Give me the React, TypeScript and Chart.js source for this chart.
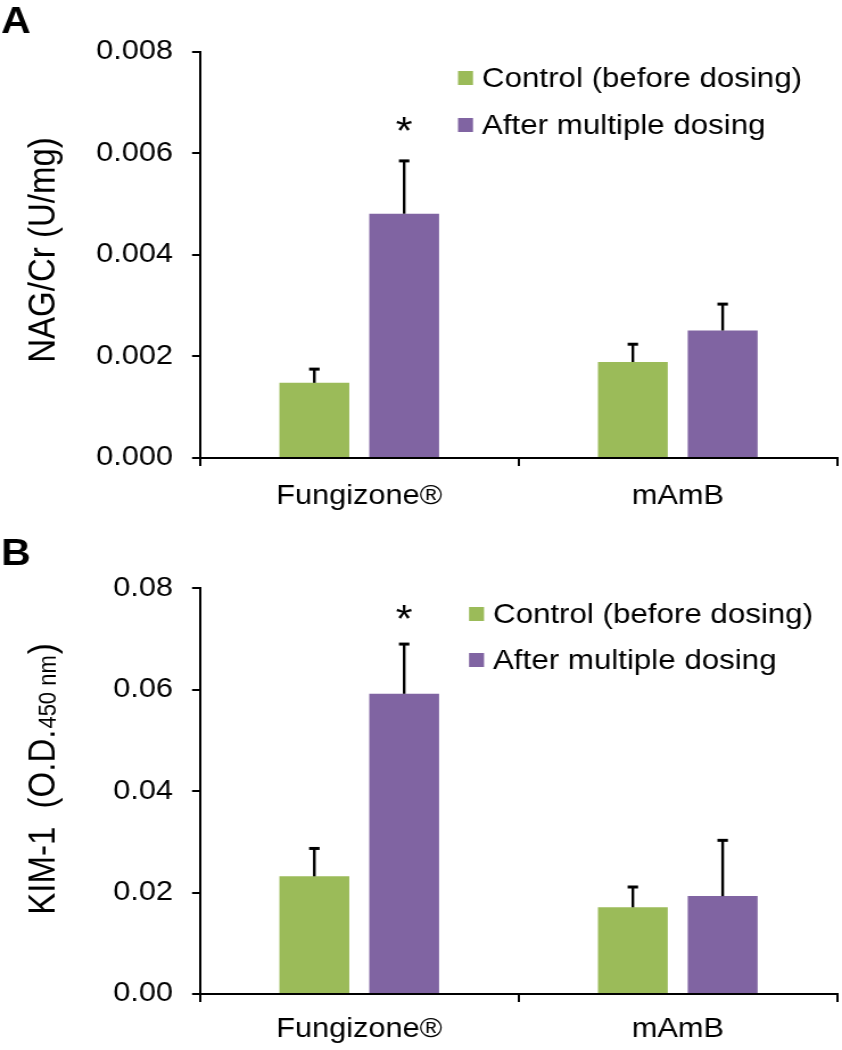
import React, { useEffect, useRef } from "react";
import { Chart, registerables } from "chart.js";

Chart.register(...registerables);

// ---------- data ----------
const categories = ["Fungizone®", "mAmB"];
const seriesLabels = ["Control (before dosing)", "After multiple dosing"];
const seriesColors = ["#9BBB59", "#8064A2"];

const nagControl = [0.00148, 0.00189];
const nagControlErr = [0.00027, 0.00035];
const nagAfter = [0.00481, 0.00251];
const nagAfterErr = [0.00104, 0.00052];
const nagStars = ["*", ""];
const nagTicks = [0, 0.002, 0.004, 0.006, 0.008];

const kimControl = [0.0232, 0.0171];
const kimControlErr = [0.0055, 0.004];
const kimAfter = [0.0592, 0.0193];
const kimAfterErr = [0.0098, 0.011];
const kimStars = ["*", ""];
const kimTicks = [0, 0.02, 0.04, 0.06, 0.08];

// ---------- layout ----------
const FINAL_W = 842;
const W = 740; // internal canvas width (stretched by CSS to 842)
const SX = FINAL_W / W;
const H = 525;
const FONT = "'Liberation Sans', Arial, Helvetica, sans-serif";

type Panel = {
  letter: string;
  titleMain: string;
  titleSub: string;
  titleEnd: string;
  titleCenterY: number;
  titleSize: number;
  subSize: number;
  decimals: number;
  ticks: number[];
  control: number[];
  controlErr: number[];
  after: number[];
  afterErr: number[];
  stars: string[];
  top: number;
  bottom: number;
  legendX: number;
  legendRows: number[];
  letterBaseline: number;
  starOffset: number;
  labelPad: number;
};

const panels: Panel[] = [
  {
    letter: "A",
    titleMain: "NAG/Cr (U/mg)",
    titleSub: "",
    titleEnd: "",
    titleCenterY: 250,
    titleSize: 33,
    subSize: 20,
    decimals: 3,
    ticks: nagTicks,
    control: nagControl,
    controlErr: nagControlErr,
    after: nagAfter,
    afterErr: nagAfterErr,
    stars: nagStars,
    top: 51.7,
    bottom: 458,
    legendX: 458,
    legendRows: [78, 125],
    letterBaseline: 33,
    starOffset: 17,
    labelPad: 14,
  },
  {
    letter: "B",
    titleMain: "KIM-1  (O.D.",
    titleSub: "450 nm",
    titleEnd: ")",
    titleCenterY: 254,
    titleSize: 33,
    subSize: 22,
    decimals: 2,
    ticks: kimTicks,
    control: kimControl,
    controlErr: kimControlErr,
    after: kimAfter,
    afterErr: kimAfterErr,
    stars: kimStars,
    top: 63.3,
    bottom: 469,
    legendX: 469,
    legendRows: [89, 135],
    letterBaseline: 40,
    starOffset: 12,
    labelPad: 11,
  },
];

const Y_AXIS_X = 200 / SX;
const X_AXIS_RIGHT = 837 / SX;

function makeOverlay(p: Panel) {
  return {
    id: "overlay" + p.letter,
    afterDatasetsDraw(chart: any) {
      const ctx = chart.ctx;
      const yScale = chart.scales.y;
      ctx.save();
      chart.data.datasets.forEach((ds: any, di: number) => {
        const meta = chart.getDatasetMeta(di);
        meta.data.forEach((bar: any, j: number) => {
          const v = ds.data[j];
          const e = ds.errors[j];
          const yTop = yScale.getPixelForValue(v);
          const yCap = yScale.getPixelForValue(v + e);
          ctx.strokeStyle = "#000";
          ctx.lineWidth = 2.4;
          ctx.beginPath();
          ctx.moveTo(bar.x, yTop);
          ctx.lineTo(bar.x, yCap);
          ctx.stroke();
          ctx.lineWidth = 3;
          ctx.beginPath();
          ctx.moveTo(bar.x - 4.6, yCap);
          ctx.lineTo(bar.x + 4.6, yCap);
          ctx.stroke();
          const s = ds.stars ? ds.stars[j] : "";
          if (s) {
            ctx.fillStyle = "#000";
            ctx.font = `38px ${FONT}`;
            ctx.textAlign = "center";
            ctx.textBaseline = "alphabetic";
            ctx.fillText(s, bar.x, yCap - p.starOffset);
          }
        });
      });
      ctx.restore();
    },
    afterDraw(chart: any) {
      const ctx = chart.ctx;
      ctx.save();
      // legend
      chart.data.datasets.forEach((ds: any, i: number) => {
        const cy = p.legendRows[i];
        const sx = p.legendX / SX;
        ctx.fillStyle = ds.backgroundColor;
        ctx.fillRect(sx, cy - 7, 13.2, 14);
        ctx.fillStyle = "#000";
        ctx.font = `27.5px ${FONT}`;
        ctx.textAlign = "left";
        ctx.textBaseline = "middle";
        ctx.fillText(ds.label, (p.legendX + 24) / SX, cy + 1);
      });
      // panel letter
      ctx.font = `bold 36px ${FONT}`;
      ctx.textAlign = "left";
      ctx.textBaseline = "alphabetic";
      ctx.fillStyle = "#000";
      ctx.fillText(p.letter, 1, p.letterBaseline);
      // y title
      const mainFont = `${p.titleSize}px ${FONT}`;
      const subFont = `${p.subSize}px ${FONT}`;
      ctx.font = mainFont;
      const w1 = ctx.measureText(p.titleMain).width;
      const w3 = p.titleEnd ? ctx.measureText(p.titleEnd).width : 0;
      ctx.font = subFont;
      const w2 = p.titleSub ? ctx.measureText(p.titleSub).width + 2 : 0;
      const L = w1 + w2 + w3;
      ctx.translate(55 / SX, p.titleCenterY);
      ctx.rotate(-Math.PI / 2);
      ctx.textAlign = "left";
      ctx.textBaseline = "alphabetic";
      let x = -L / 2;
      ctx.font = mainFont;
      ctx.fillText(p.titleMain, x, 0);
      x += w1;
      if (p.titleSub) {
        ctx.font = subFont;
        ctx.fillText(p.titleSub, x + 1, 1);
        x += w2;
      }
      if (p.titleEnd) {
        ctx.font = mainFont;
        ctx.fillText(p.titleEnd, x, 0);
      }
      ctx.restore();
    },
  };
}

function PanelChart({ p }: { p: Panel }) {
  const ref = useRef<HTMLCanvasElement | null>(null);
  useEffect(() => {
    if (!ref.current) return;
    const maxV = p.ticks[p.ticks.length - 1];
    const chart = new Chart(ref.current, {
      type: "bar",
      data: {
        labels: categories,
        datasets: [
          {
            label: seriesLabels[0],
            data: p.control,
            backgroundColor: seriesColors[0],
            errors: p.controlErr,
            stars: [],
            categoryPercentage: 0.564,
            barPercentage: 0.778,
          } as any,
          {
            label: seriesLabels[1],
            data: p.after,
            backgroundColor: seriesColors[1],
            errors: p.afterErr,
            stars: p.stars,
            categoryPercentage: 0.564,
            barPercentage: 0.778,
          } as any,
        ],
      },
      options: {
        responsive: false,
        animation: false,
        devicePixelRatio: 1,
        layout: {
          padding: { left: 0, right: W - X_AXIS_RIGHT, top: p.top, bottom: 0 },
        },
        plugins: {
          legend: { display: false },
          tooltip: { enabled: false },
          title: { display: false },
        },
        scales: {
          x: {
            grid: {
              offset: true,
              drawOnChartArea: false,
              drawTicks: true,
              tickLength: 8,
              color: "#000",
              lineWidth: 2,
            },
            border: { display: true, color: "#000", width: 2 },
            ticks: {
              color: "#000",
              font: { family: FONT, size: 27 },
              padding: p.labelPad,
              maxRotation: 0,
            },
            afterFit: (s: any) => {
              s.height = H - p.bottom;
            },
          },
          y: {
            min: 0,
            max: maxV,
            afterBuildTicks: (s: any) => {
              s.ticks = p.ticks.map((v) => ({ value: v }));
            },
            grid: {
              drawOnChartArea: false,
              drawTicks: true,
              tickLength: 7,
              color: "#000",
              lineWidth: 2,
            },
            border: { display: true, color: "#000", width: 2 },
            ticks: {
              color: "#000",
              font: { family: FONT, size: 27 },
              padding: 16.8,
              callback: (v: any) => Number(v).toFixed(p.decimals),
            },
            afterFit: (s: any) => {
              s.width = Y_AXIS_X;
            },
          },
        },
      } as any,
      plugins: [makeOverlay(p)],
    });
    return () => chart.destroy();
  }, [p]);
  return (
    <canvas
      ref={ref}
      width={W}
      height={H}
      style={{ display: "block", width: FINAL_W + "px", height: H + "px" }}
    />
  );
}

export default function App() {
  return (
    <div
      style={{
        position: "absolute",
        left: 0,
        top: 0,
        width: FINAL_W,
        height: 1050,
        background: "#fff",
      }}
    >
      {panels.map((p) => (
        <PanelChart key={p.letter} p={p} />
      ))}
    </div>
  );
}
